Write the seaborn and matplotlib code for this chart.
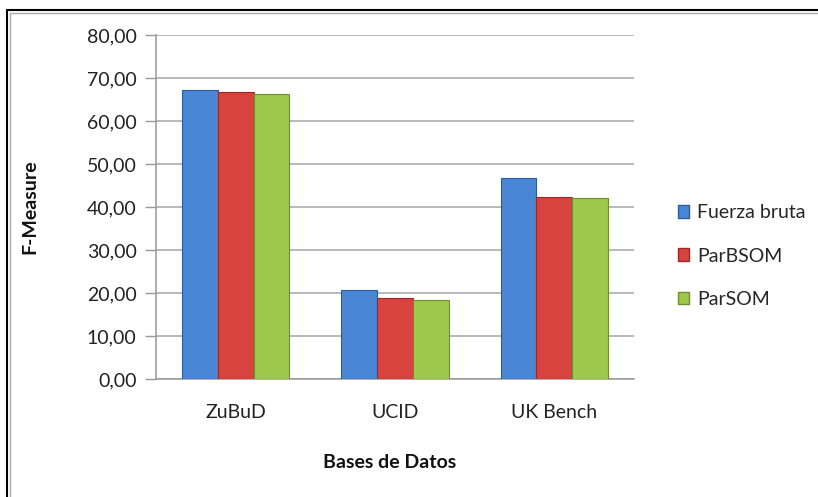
import matplotlib
matplotlib.use("Agg")
import matplotlib.pyplot as plt
import seaborn as sns
import pandas as pd
from matplotlib.lines import Line2D
from matplotlib.patches import Patch

categories = ["ZuBuD", "UCID", "UK Bench"]
series = ["Fuerza bruta", "ParBSOM", "ParSOM"]
fuerza_bruta = [67.1, 20.7, 46.7]
parbsom = [66.8, 18.8, 42.4]
parsom = [66.3, 18.4, 42.2]
yticks = [0, 10, 20, 30, 40, 50, 60, 70, 80]
ytick_labels = ["0,00", "10,00", "20,00", "30,00", "40,00", "50,00", "60,00", "70,00", "80,00"]

colors = ["#4A86D6", "#D8433F", "#9EC84C"]
edges = ["#2C5C9E", "#9E2A27", "#6E8F2E"]

sns.set_theme(style="white")
plt.rcParams['font.family'] = ['Lato', 'DejaVu Sans']

rows = []
for s, vals in zip(series, [fuerza_bruta, parbsom, parsom]):
    for c, v in zip(categories, vals):
        rows.append({"Base": c, "Serie": s, "Valor": v})
df = pd.DataFrame(rows)

fig = plt.figure(figsize=(8.18, 4.97), dpi=100)
ax = fig.add_axes([156/818, 1 - 379/497, (634-156)/818, (379-35)/497])

sns.barplot(data=df, x="Base", y="Valor", hue="Serie", order=categories,
            hue_order=series, palette=colors, width=0.675, ax=ax,
            legend=False, saturation=1, zorder=3)

for i, cont in enumerate(ax.containers):
    for bar in cont:
        bar.set_edgecolor(edges[i])
        bar.set_linewidth(0.8)

ax.set_ylim(0, 80)
ax.set_xlim(-0.5, 2.5)
ax.set_yticks(yticks)
ax.set_yticklabels(ytick_labels, fontsize=14, color="#222222")
ax.tick_params(axis="x", labelsize=14, colors="#222222", length=0, pad=18)
ax.tick_params(axis="y", length=8, width=1, color="#999999", direction="out", pad=6, left=True)
for lab in ax.get_xticklabels():
    lab.set_color("#222222")

ax.yaxis.grid(True, color="#A6A6A6", linewidth=1.1, zorder=0)
ax.set_axisbelow(True)
for sp in ["top", "right"]:
    ax.spines[sp].set_visible(False)
for sp in ["left", "bottom"]:
    ax.spines[sp].set_color("#999999")
    ax.spines[sp].set_linewidth(1.1)

ax.set_ylabel("")
ax.set_xlabel("")
fig.text(30/818, 1 - 207/497, "F-Measure", rotation=90, ha="center", va="center",
         fontsize=14, fontweight="bold", color="#111111")
fig.text(390/818, 1 - 463/497, "Bases de Datos", ha="center", va="center",
         fontsize=14, fontweight="bold", color="#111111")

handles = [Patch(facecolor=colors[i], edgecolor=edges[i], label=series[i]) for i in range(3)]
fig.legend(handles=handles, loc="center left", bbox_to_anchor=(660/818, 1 - 256/497),
           frameon=False, fontsize=14, handlelength=0.6, handleheight=0.6,
           handletextpad=0.4, labelspacing=1.35)

fig.add_artist(Line2D([7/818, 1.0], [1 - 10/497, 1 - 10/497], transform=fig.transFigure,
                      color="black", linewidth=1.5))
fig.add_artist(Line2D([7/818, 7/818], [0, 1 - 10/497], transform=fig.transFigure,
                      color="black", linewidth=1.5))
fig.add_artist(Line2D([10/818, 1.0], [1 - 13/497, 1 - 13/497], transform=fig.transFigure,
                      color="#AAAAAA", linewidth=1))
fig.add_artist(Line2D([10/818, 10/818], [0, 1 - 13/497], transform=fig.transFigure,
                      color="#AAAAAA", linewidth=1))

fig.savefig("out.png", dpi=100)
